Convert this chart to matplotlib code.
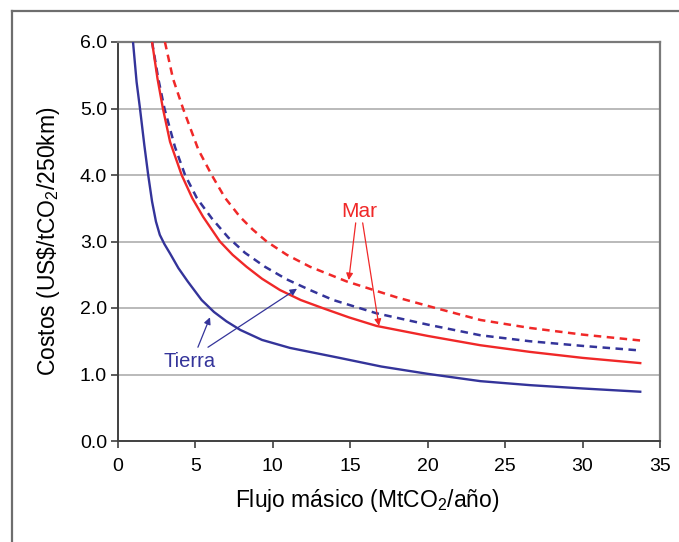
"""Costos de transporte de CO2 por ducto (tierra / mar) vs. flujo másico."""

import matplotlib

matplotlib.use("Agg")
import matplotlib.pyplot as plt
from matplotlib.lines import Line2D

plt.rcParams["font.family"] = ["Liberation Sans", "DejaVu Sans"]
plt.rcParams["mathtext.fontset"] = "custom"
plt.rcParams["mathtext.rm"] = "Liberation Sans"

AZUL = "#34349a"
ROJO = "#f02828"

# Tierra, línea continua
tierra_x = [0.97, 1.2, 1.42, 1.7, 1.95, 2.2, 2.45, 2.7, 3.0, 3.36, 3.9, 4.5, 5.4, 6.2,
            7.0, 7.9, 9.3, 11.1, 14.3, 17.0, 20.0, 23.4, 26.6, 30.0, 33.8]
tierra_y = [6.0, 5.4, 5.0, 4.45, 4.0, 3.6, 3.3, 3.1, 2.96, 2.82, 2.6, 2.4, 2.12, 1.94,
            1.8, 1.67, 1.52, 1.40, 1.25, 1.12, 1.01, 0.90, 0.84, 0.79, 0.74]

# Tierra, línea discontinua
tierra2_x = [2.2, 2.6, 3.0, 3.68, 4.33, 5.1, 6.05, 7.12, 8.2, 9.49, 10.9, 12.4, 13.9,
             16.7, 20.0, 23.4, 26.6, 30.0, 33.8]
tierra2_y = [6.0, 5.45, 5.0, 4.42, 4.0, 3.65, 3.35, 3.06, 2.83, 2.62, 2.43, 2.27, 2.12,
             1.92, 1.75, 1.59, 1.50, 1.43, 1.36]

# Mar, línea continua
mar_x = [2.2, 2.55, 2.9, 3.36, 4.11, 4.8, 5.5, 6.58, 7.4, 8.3, 9.3, 10.46, 11.8, 13.2,
         14.9, 16.7, 20.0, 23.4, 26.6, 30.0, 33.8]
mar_y = [6.0, 5.45, 5.0, 4.5, 4.0, 3.65, 3.37, 3.0, 2.8, 2.62, 2.44, 2.27, 2.12, 2.0,
         1.86, 1.73, 1.58, 1.44, 1.34, 1.25, 1.17]

# Mar, línea discontinua
mar2_x = [3.03, 3.55, 4.2, 5.19, 6.05, 6.9, 7.88, 8.7, 9.6, 10.9, 12.4, 14.76, 18.0,
          20.5, 23.4, 26.6, 30.0, 33.8]
mar2_y = [6.0, 5.45, 5.0, 4.38, 4.0, 3.66, 3.37, 3.18, 3.0, 2.8, 2.62, 2.40, 2.16,
          2.0, 1.82, 1.70, 1.60, 1.51]

x_ticks = [0, 5, 10, 15, 20, 25, 30, 35]
y_ticks = [0.0, 1.0, 2.0, 3.0, 4.0, 5.0, 6.0]

fig = plt.figure(figsize=(6.79, 5.42), dpi=100)
ax = fig.add_axes([118 / 679, 1 - 441 / 542, (660 - 118) / 679, (441 - 42) / 542])

# marco exterior de la figura
fig.add_artist(Line2D([12 / 679, 12 / 679], [-0.1, 1 - 11 / 542], transform=fig.transFigure,
                      color="#6e6e6e", lw=1.6))
fig.add_artist(Line2D([12 / 679, 1.1], [1 - 11 / 542, 1 - 11 / 542], transform=fig.transFigure,
                      color="#6e6e6e", lw=1.6))

for y in y_ticks[1:-1]:
    ax.axhline(y, color="#b4b4b4", lw=1.3, zorder=1)

ax.plot(mar2_x, mar2_y, color=ROJO, lw=1.8, dashes=(3, 2.2), zorder=3)
ax.plot(tierra2_x, tierra2_y, color=AZUL, lw=1.8, dashes=(3, 2.2), zorder=3)
ax.plot(mar_x, mar_y, color=ROJO, lw=1.7, zorder=3, solid_capstyle="butt")
ax.plot(tierra_x, tierra_y, color=AZUL, lw=1.7, zorder=3, solid_capstyle="butt")

ax.set_xlim(0, 35)
ax.set_ylim(0, 6)
ax.set_xticks(x_ticks)
ax.set_yticks(y_ticks)
ax.set_yticklabels([f"{v:.1f}" for v in y_ticks])
ax.tick_params(labelsize=14, length=5, width=1.2, color="#404040", direction="out")
ax.tick_params(axis="x", pad=7)
ax.tick_params(axis="y", pad=3)

for lado in ("left", "bottom"):
    ax.spines[lado].set_color("#404040")
    ax.spines[lado].set_linewidth(1.4)
for lado in ("top", "right"):
    ax.spines[lado].set_color("#7a7a7a")
    ax.spines[lado].set_linewidth(1.6)

ax.set_xlabel(r"Flujo másico (MtCO$\mathregular{_2}$/año)", fontsize=16.5)
ax.xaxis.set_label_coords(0.46, -0.115)
ax.set_ylabel(r"Costos (US$\$$/tCO$\mathregular{_2}$/250km)", fontsize=16.5, labelpad=13)

flecha = dict(arrowstyle="-|>", lw=0.9, mutation_scale=10, shrinkA=0, shrinkB=0)

ax.text(15.55, 3.45, "Mar", color=ROJO, fontsize=15, ha="center", va="center")
ax.annotate("", xy=(14.9, 2.42), xytext=(15.35, 3.28),
            arrowprops=dict(flecha, color=ROJO))
ax.annotate("", xy=(16.85, 1.73), xytext=(15.8, 3.28),
            arrowprops=dict(flecha, color=ROJO))

ax.text(4.65, 1.2, "Tierra", color=AZUL, fontsize=14.5, ha="center", va="center")
ax.annotate("", xy=(5.94, 1.86), xytext=(5.16, 1.41),
            arrowprops=dict(flecha, color=AZUL))
ax.annotate("", xy=(11.56, 2.29), xytext=(5.81, 1.41),
            arrowprops=dict(flecha, color=AZUL))

fig.savefig("out.png", dpi=100)
